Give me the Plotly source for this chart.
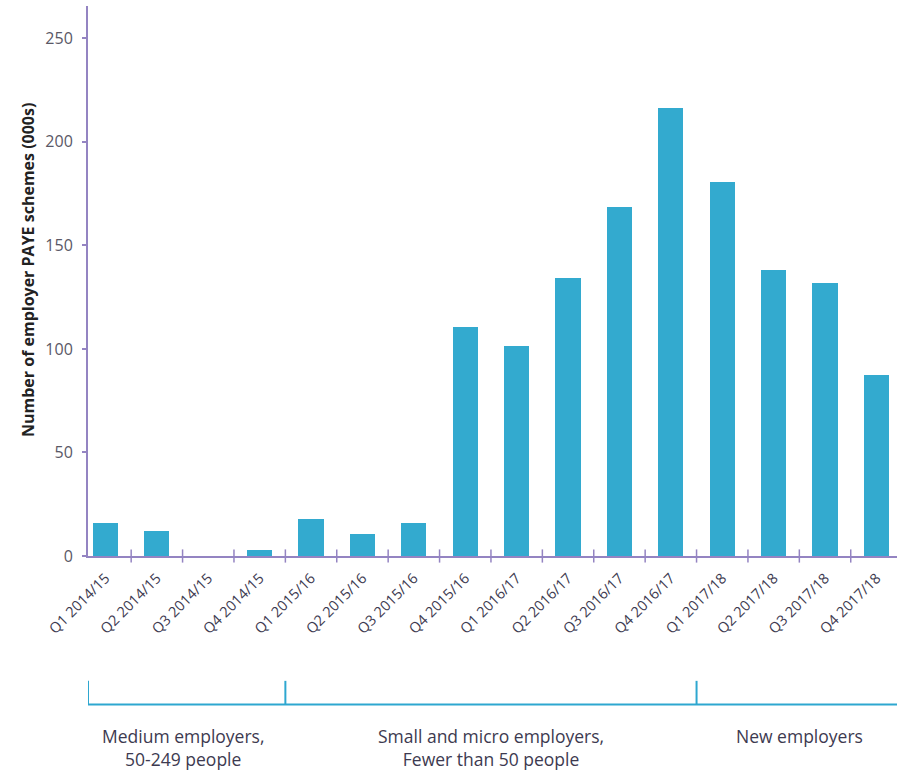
import plotly.graph_objects as go

# Quarterly counts of employer PAYE schemes reaching staging (000s)
quarters = [
    "Q1 2014/15", "Q2 2014/15", "Q3 2014/15", "Q4 2014/15",
    "Q1 2015/16", "Q2 2015/16", "Q3 2015/16", "Q4 2015/16",
    "Q1 2016/17", "Q2 2016/17", "Q3 2016/17", "Q4 2016/17",
    "Q1 2017/18", "Q2 2017/18", "Q3 2017/18", "Q4 2017/18",
]
schemes_000s = [15.8, 12.2, 0, 2.9, 17.7, 10.5, 15.8, 110.6,
                101.4, 134.4, 168.5, 216.3, 180.4, 138.2, 131.8, 87.5]

y_ticks = [0, 50, 100, 150, 200, 250]

# Employer groups along the bottom: (label, first index, last index)
groups = [
    ("Medium employers,<br>50-249 people", 0, 3),
    ("Small and micro employers,<br>Fewer than 50 people", 4, 11),
    ("New employers", 12, 15),
]

BAR = "#33aacf"
AXIS = "#9484c2"
BRACKET = "#2ea7d0"
TEXT = "#3d3a50"
FONT = "'Open Sans', Lato, sans-serif"

W, H = 897, 772
M_L, M_R, M_T, M_B = 88, 0, 6, 216
plot_w = W - M_L - M_R

x_lo, x_hi = -0.34, 15.4

fig = go.Figure()
fig.add_trace(go.Bar(
    x=list(range(len(quarters))),
    y=schemes_000s,
    width=0.49,
    marker=dict(color=BAR, line=dict(width=0)),
    hoverinfo="x+y",
))

fig.update_layout(
    width=W, height=H,
    margin=dict(l=M_L, r=M_R, t=M_T, b=M_B),
    paper_bgcolor="white", plot_bgcolor="white",
    showlegend=False,
    bargap=0,
    font=dict(family=FONT, color=TEXT),
    xaxis=dict(
        range=[x_lo, x_hi],
        tickmode="array",
        tickvals=list(range(len(quarters))),
        ticktext=quarters,
        tickangle=-45,
        tickfont=dict(size=14.5, color=TEXT),
        ticklabelstandoff=6,
        showgrid=False, zeroline=False,
        showline=True, linecolor=AXIS, linewidth=2,
        ticks="", fixedrange=True,
    ),
    yaxis=dict(
        range=[0, 265.6],
        tickvals=y_ticks,
        tickfont=dict(size=16, color="#5a5866"),
        showgrid=False, zeroline=False,
        showline=True, linecolor=AXIS, linewidth=2,
        ticks="outside", ticklen=4, tickwidth=1.5, tickcolor=AXIS,
        ticklabelstandoff=6,
    ),
)

# Vertical axis title, 28 px from the left edge of the figure
fig.add_annotation(
    x=(28 - M_L) / plot_w, y=0.52, xref="paper", yref="paper",
    xanchor="center", yanchor="middle", textangle=-90, showarrow=False,
    text="<b>Number of employer PAYE schemes (000s)</b>",
    font=dict(size=16, color="#222"),
)

# Tick marks between quarters, crossing the category axis
for k in range(len(quarters) - 1):
    xb = k + 0.5
    fig.add_shape(type="line", xref="x", yref="paper",
                  x0=xb, x1=xb, y0=-0.012, y1=0.012,
                  line=dict(color=AXIS, width=1.5))

# Group brackets and labels beneath the axis
y_bar = -0.270
y_tip = -0.227
edges = [x_lo] + [g[2] + 0.5 for g in groups[:-1]]
fig.add_shape(type="line", xref="x", yref="paper",
              x0=x_lo, x1=x_hi, y0=y_bar, y1=y_bar,
              line=dict(color=BRACKET, width=2))
for xe in edges:
    fig.add_shape(type="line", xref="x", yref="paper",
                  x0=xe, x1=xe, y0=y_bar, y1=y_tip,
                  line=dict(color=BRACKET, width=2))
for label, i0, i1 in groups:
    fig.add_annotation(
        x=(i0 + i1) / 2, y=-0.302, xref="x", yref="paper",
        text=label, showarrow=False, yanchor="top", align="center",
        font=dict(size=17.5, color=TEXT),
    )

fig.write_html("out.html")
